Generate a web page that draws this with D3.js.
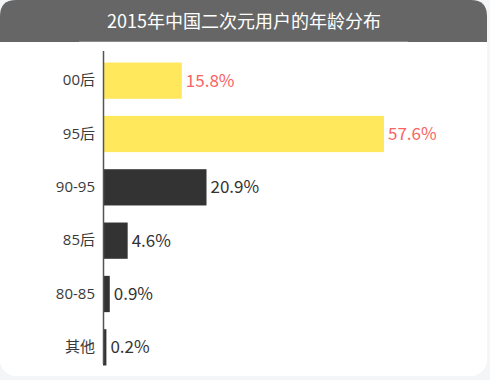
<!DOCTYPE html>
<html><head><meta charset="utf-8">
<script src="https://cdn.jsdelivr.net/npm/d3@7"></script>
<style>
html,body{margin:0;padding:0;background:#f4f5f7;}
svg{display:block;font-family:"Noto Sans CJK SC","Noto Sans",sans-serif;}
</style></head>
<body>
<svg id="c" width="490" height="380"></svg>
<script>
const title = "2015年中国二次元用户的年龄分布";
const categories = ["00后","95后","90-95","85后","80-85","其他"];
const values = [15.8, 57.6, 20.9, 4.6, 0.9, 0.2];
const highlight = [true, true, false, false, false, false];

const svg = d3.select("#c");
const W = 487, H = 376, R = 16, HH = 42;

svg.append("rect").attr("x",0).attr("y",0).attr("width",W).attr("height",H)
  .attr("rx",R).attr("fill","#ffffff");
svg.append("path")
  .attr("d",`M0,${HH} L0,${R} Q0,0 ${R},0 L${W-R},0 Q${W},0 ${W},${R} L${W},${HH} Z`)
  .attr("fill","#666666");
svg.append("line").attr("x1",79).attr("x2",408).attr("y1",HH-0.5).attr("y2",HH-0.5)
  .attr("stroke","#8a8a8a").attr("stroke-width",1);
svg.append("text").attr("x",244).attr("y",28).attr("text-anchor","middle")
  .attr("fill","#ffffff").attr("font-size",18).text(title);

const y = d3.scaleBand().domain(categories).range([54,374]).paddingInner(0.32).paddingOuter(0.16);
const x0 = -0.5;
const x = d3.scaleLinear().domain([x0, 57.6]).range([103, 384]);

const g = svg.append("g");
g.selectAll("rect.bar").data(values).join("rect").attr("class","bar")
  .attr("x", x(x0)).attr("y",(d,i)=>y(categories[i]))
  .attr("width", d=>x(d)-x(x0)).attr("height", y.bandwidth())
  .attr("fill",(d,i)=>highlight[i] ? "#ffe85c" : "#333333");

g.selectAll("text.val").data(values).join("text").attr("class","val")
  .attr("x", d=>x(d)+4).attr("y",(d,i)=>y(categories[i])+y.bandwidth()/2)
  .attr("dy","0.35em").attr("font-size",17)
  .attr("fill",(d,i)=>highlight[i] ? "#f86464" : "#333333")
  .text(d=>d.toFixed(1)+"%");

const yAxis = d3.axisLeft(y).tickSize(0).tickPadding(8);
const ag = svg.append("g").attr("transform",`translate(${x(x0)},0)`).call(yAxis);
ag.select(".domain").attr("d",`M0.5,51V364`).attr("stroke","#555555").attr("stroke-width",1.5);
ag.selectAll("text").attr("font-size",15).attr("fill","#3a3a3a")
  .attr("font-family",'"Open Sans","Noto Sans CJK SC",sans-serif');
</script>
</body></html>
